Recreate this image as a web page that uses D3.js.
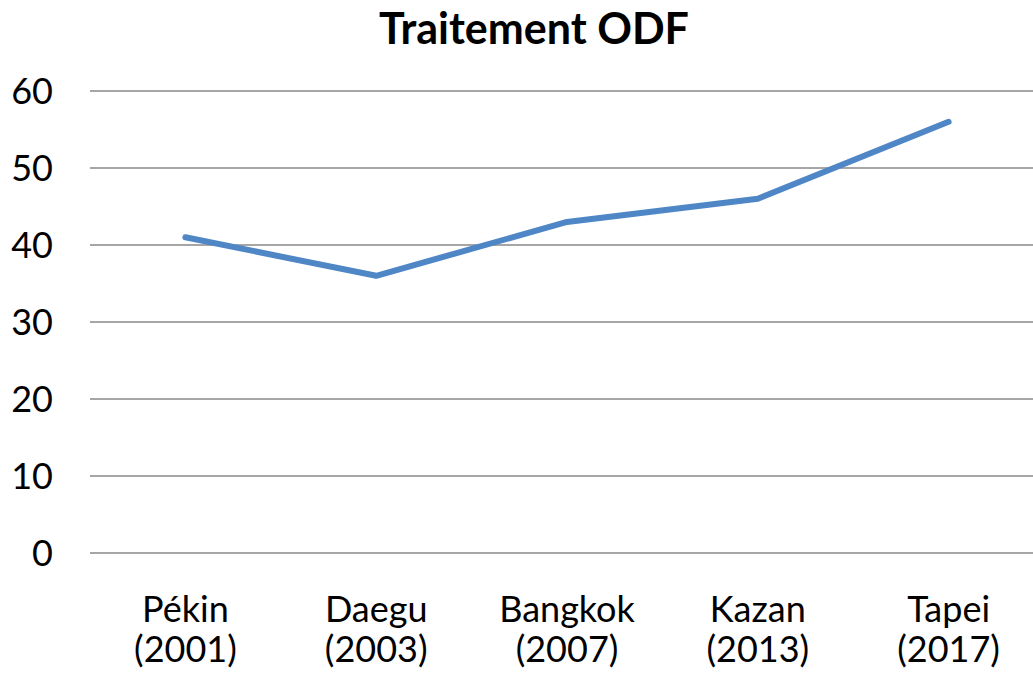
<!DOCTYPE html>
<html>
<head>
<meta charset="utf-8">
<script src="https://cdn.jsdelivr.net/npm/d3@7"></script>
<style>
  body { margin: 0; background: #fff; }
  text { font-family: Lato, "Open Sans", sans-serif; fill: #000; }
</style>
</head>
<body>
<div id="chart"></div>
<script>
// data
var cities = ["Pékin", "Daegu", "Bangkok", "Kazan", "Tapei"];
var years = ["(2001)", "(2003)", "(2007)", "(2013)", "(2017)"];
var values = [41, 36, 43, 46, 56];
var yTicks = [0, 10, 20, 30, 40, 50, 60];

var W = 1033, H = 675;
var margin = {top: 91, left: 90, bottom: 122};

var svg = d3.select("#chart")
  .append("svg")
    .attr("width", W)
    .attr("height", H);

var x = d3.scaleBand()
  .domain(cities)
  .range([margin.left, 1044]);

var y = d3.scaleLinear()
  .domain([0, 60])
  .range([H - margin.bottom, margin.top]);

// gridlines
svg.append("g")
  .selectAll("line")
  .data(yTicks)
  .enter().append("line")
    .attr("x1", margin.left)
    .attr("x2", W)
    .attr("y1", function(d) { return y(d); })
    .attr("y2", function(d) { return y(d); })
    .attr("stroke", "#a6a6a6")
    .attr("stroke-width", 2);

// y labels
svg.append("g")
  .selectAll("text")
  .data(yTicks)
  .enter().append("text")
    .attr("x", 53)
    .attr("y", function(d) { return y(d); })
    .attr("dy", "0.36em")
    .attr("text-anchor", "end")
    .style("font-size", "36px")
    .text(function(d) { return d; });

// x labels
var xl = svg.append("g")
  .selectAll("text")
  .data(cities)
  .enter().append("text")
    .attr("x", function(d) { return x(d) + x.bandwidth() / 2; })
    .attr("text-anchor", "middle")
    .style("font-size", "36px");
xl.append("tspan")
    .attr("x", function(d) { return x(d) + x.bandwidth() / 2; })
    .attr("y", 622)
    .text(function(d) { return d; });
xl.append("tspan")
    .attr("x", function(d) { return x(d) + x.bandwidth() / 2; })
    .attr("y", 662)
    .text(function(d, i) { return years[i]; });

// line
var line = d3.line()
  .x(function(d, i) { return x(cities[i]) + x.bandwidth() / 2; })
  .y(function(d) { return y(d); });

svg.append("path")
  .datum(values)
  .attr("d", line)
  .attr("fill", "none")
  .attr("stroke", "#4f86c6")
  .attr("stroke-width", 6)
  .attr("stroke-linecap", "round")
  .attr("stroke-linejoin", "round");

// title
svg.append("text")
  .attr("x", 534)
  .attr("y", 44)
  .attr("text-anchor", "middle")
  .style("font-size", "43px")
  .style("font-weight", "bold")
  .text("Traitement ODF");
</script>
</body>
</html>
